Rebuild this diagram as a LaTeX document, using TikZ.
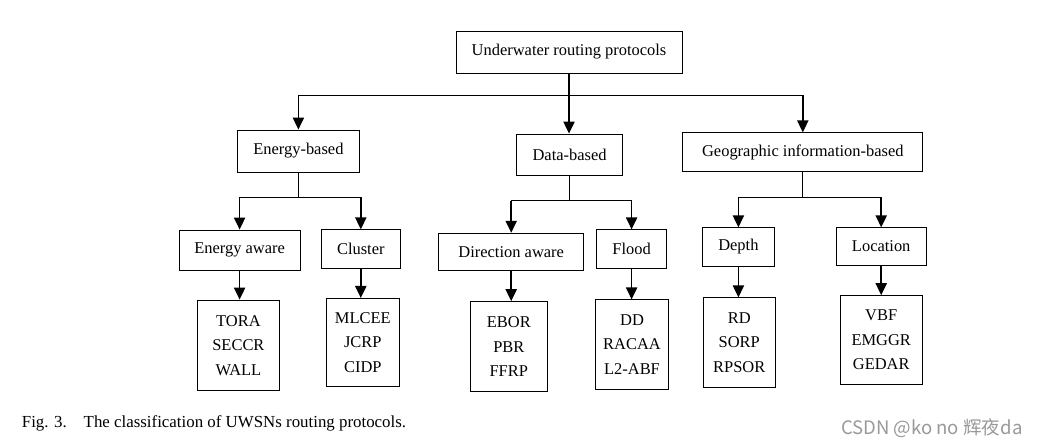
\documentclass[tikz,border=0pt]{standalone}
\usepackage{fontspec}
\setmainfont{Liberation Serif}
\newfontfamily\cjkfont{Noto Sans CJK SC}
\usetikzlibrary{arrows.meta}
\tikzset{
	box/.style={draw, line width=0.6pt, inner sep=0pt, align=center, font=\fontsize{11.7}{17.4}\selectfont},
	bus/.style={line width=0.7pt},
	arr/.style={line width=1.1pt, -{Triangle[width=0.28cm,length=0.3cm]}}
}
\begin{document}
\begin{tikzpicture}
			%%%%% START %%%%%
			\useasboundingbox (0, 0) rectangle (26.05, 11.175);
			
			\node[box, minimum width=5.65cm, minimum height=1.05cm] (root) at (14.225, 9.875) {Underwater routing protocols};
			
			\node[box, minimum width=3.04cm, minimum height=1.05cm] (energy) at (7.46, 7.4) {Energy-based};
			\node[box, minimum width=2.64cm, minimum height=1.03cm] (data) at (14.24, 7.31) {Data-based};
			\node[box, minimum width=6.0cm, minimum height=0.96cm] (geo) at (20.07, 7.375) {Geographic information-based};
			
			\node[box, minimum width=3.03cm, minimum height=1.0cm] (eaware) at (5.99, 4.925) {Energy aware};
			\node[box, minimum width=1.96cm, minimum height=0.96cm] (cluster) at (9.02, 4.95) {Cluster};
			\node[box, minimum width=3.63cm, minimum height=0.94cm] (daware) at (12.78, 4.875) {Direction aware};
			\node[box, minimum width=1.74cm, minimum height=0.96cm] (flood) at (15.79, 4.95) {Flood};
			\node[box, minimum width=1.79cm, minimum height=0.96cm] (depth) at (18.46, 5.0) {Depth};
			\node[box, minimum width=2.25cm, minimum height=0.94cm] (location) at (22.03, 5.01) {Location};
			
			\node[box, minimum width=2.03cm, minimum height=2.27cm] (eleaf) at (5.96, 2.54) {TORA\\SECCR\\WALL};
			\node[box, minimum width=1.81cm, minimum height=2.21cm] (cleaf) at (9.07, 2.61) {MLCEE\\JCRP\\CIDP};
			\node[box, minimum width=1.94cm, minimum height=2.25cm] (dleaf) at (12.72, 2.51) {EBOR\\PBR\\FFRP};
			\node[box, minimum width=1.82cm, minimum height=2.24cm] (fleaf) at (15.8, 2.56) {DD\\RACAA\\L2-ABF};
			\node[box, minimum width=1.8cm, minimum height=2.24cm] (pleaf) at (18.48, 2.61) {RD\\SORP\\RPSOR};
			\node[box, minimum width=2.06cm, minimum height=2.22cm] (lleaf) at (22.03, 2.675) {VBF\\EMGGR\\GEDAR};
			
			% top level
			\coordinate (rootj) at (14.225, 8.8);
			\draw[arr] (root.south) -- (root.south |- data.north);
			\draw[bus] (energy.north |- rootj) -- (geo.north |- rootj);
			\draw[arr] (energy.north |- rootj) -- (energy.north);
			\draw[arr] (geo.north |- rootj) -- (geo.north);
			
			% second level
			\coordinate (energyj) at (7.46, 6.24);
			\draw[bus] (energy.south) -- (energyj);
			\draw[bus] (eaware.north |- energyj) -- (cluster.north |- energyj);
			\draw[arr] (eaware.north |- energyj) -- (eaware.north);
			\draw[arr] (cluster.north |- energyj) -- (cluster.north);
			
			\coordinate (dataj) at (14.24, 6.16);
			\draw[bus] (data.south) -- (dataj);
			\draw[bus] (daware.north |- dataj) -- (flood.north |- dataj);
			\draw[arr] (daware.north |- dataj) -- (daware.north);
			\draw[arr] (flood.north |- dataj) -- (flood.north);
			
			\coordinate (geoj) at (20.07, 6.24);
			\draw[bus] (geo.south) -- (geoj);
			\draw[bus] (depth.north |- geoj) -- (location.north |- geoj);
			\draw[arr] (depth.north |- geoj) -- (depth.north);
			\draw[arr] (location.north |- geoj) -- (location.north);
			
			% leaves
			\draw[arr] (eaware.south) -- (eaware.south |- eleaf.north);
			\draw[arr] (cluster.south) -- (cluster.south |- cleaf.north);
			\draw[arr] (daware.south) -- (daware.south |- dleaf.north);
			\draw[arr] (flood.south) -- (flood.south |- fleaf.north);
			\draw[arr] (depth.south) -- (depth.south |- pleaf.north);
			\draw[arr] (location.south) -- (location.south |- lleaf.north);
			
			% caption
			\node[anchor=west, inner sep=0pt, font=\fontsize{12}{14}\selectfont] (cap) at (0.54, 0.6) {Fig. 3.\hspace{8pt} The classification of UWSNs routing protocols.};
			\node[anchor=west, inner sep=0pt, text=black!40, font=\cjkfont\fontsize{13.2}{15}\selectfont] (mark) at (21.02, 0.47) {CSDN @ko no 辉夜da};
			
			%%%%% END %%%%%
		\end{tikzpicture}
\end{document}
